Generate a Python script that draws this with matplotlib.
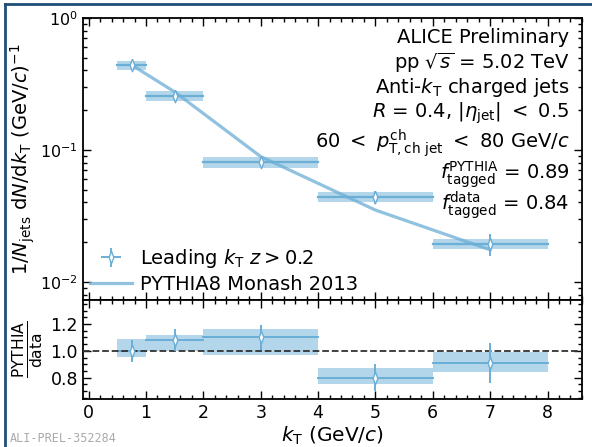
import matplotlib
matplotlib.use("Agg")
import matplotlib.pyplot as plt
from matplotlib.ticker import MultipleLocator, LogLocator, NullFormatter
from matplotlib.patches import Rectangle
from matplotlib.lines import Line2D
import numpy as np

plt.rcParams["font.family"] = "DejaVu Sans"
plt.rcParams["mathtext.fontset"] = "dejavusans"

# ── bins & values ────────────────────────────────────────────────────────────
kt_lo = [0.5, 1.0, 2.0, 4.0, 6.0]
kt_hi = [1.0, 2.0, 4.0, 6.0, 8.0]
kt_pts = [0.75, 1.5, 3.0, 5.0, 7.0]

data = [0.44, 0.257, 0.081, 0.044, 0.0194]
data_stat = [0.02, 0.012, 0.006, 0.005, 0.0037]
data_sys = [0.035, 0.021, 0.008, 0.004, 0.0018]

pythia = [0.44, 0.275, 0.089, 0.035, 0.0175]

ratio = [1.0, 1.08, 1.10, 0.80, 0.91]
ratio_stat = [0.08, 0.08, 0.09, 0.10, 0.15]
ratio_sys_lo = [0.955, 1.0, 0.97, 0.755, 0.84]
ratio_sys_hi = [1.09, 1.12, 1.165, 0.87, 0.99]

BLUE = "#6baed6"
FRAME = "#1f4e79"
# narrow open diamond
DIAMOND = [(0, 1), (0.38, 0), (0, -1), (-0.38, 0), (0, 1)]
MK = dict(fmt="none", color=BLUE, elinewidth=1.4, capsize=0)
DOT = dict(marker=DIAMOND, ms=9, mfc="white", mec=BLUE, mew=1.0, ls="none")

fig = plt.figure(figsize=(5.92, 4.47), dpi=100)
ax = fig.add_axes([0.140, 0.329, 0.843, 0.631])
axr = fig.add_axes([0.140, 0.107, 0.843, 0.222], sharex=ax)

# ── main panel ───────────────────────────────────────────────────────────────
for lo, hi, y, s in zip(kt_lo, kt_hi, data, data_sys):
    ax.add_patch(Rectangle((lo, y - s), hi - lo, 2 * s, facecolor=BLUE,
                           alpha=0.5, edgecolor="none", zorder=2))
    ax.plot([lo, hi], [y, y], color=BLUE, lw=1.6, zorder=3)
ax.errorbar(kt_pts, data, yerr=data_stat, zorder=5, **MK)
ax.plot(kt_pts, data, zorder=6, **DOT)
ax.plot(kt_pts, pythia, color=BLUE, lw=2.3, alpha=0.75, zorder=4)

ax.set_yscale("log")
ax.set_ylim(0.0073, 1.0)
ax.set_xlim(-0.1, 8.6)
ax.yaxis.set_major_locator(LogLocator(base=10, numticks=10))
ax.yaxis.set_minor_locator(LogLocator(base=10, subs=np.arange(2, 10), numticks=10))
ax.yaxis.set_minor_formatter(NullFormatter())
ax.set_ylabel(r"$1/N_{\rm jets}\ {\rm d}N/{\rm d}k_{\rm T}\ ({\rm GeV}/c)^{-1}$",
              fontsize=14, labelpad=2)
plt.setp(ax.get_xticklabels(), visible=False)

lines = [
    "ALICE Preliminary",
    r"pp $\sqrt{s}$ = 5.02 TeV",
    r"Anti-$k_{\rm T}$ charged jets",
    r"$R$ = 0.4, $|\eta_{\rm jet}|\ <\ 0.5$",
    r"60 $<\ p_{\rm T,ch\ jet}^{\rm ch}\ <$ 80 GeV/$c$",
    r"$f_{\rm tagged}^{\rm PYTHIA}$ = 0.89",
    r"$f_{\rm tagged}^{\rm data}$ = 0.84",
]
ys = [0.929, 0.84, 0.752, 0.663, 0.557, 0.443, 0.337]
for txt, y in zip(lines, ys):
    ax.text(0.975, y, txt, transform=ax.transAxes, ha="right", va="center",
            fontsize=14)

h_err = ax.errorbar([], [], xerr=[], yerr=[], **MK)
h_dot = Line2D([], [], **DOT)
h_py = Line2D([], [], color=BLUE, lw=2.3, alpha=0.75)
ax.legend([(h_err, h_dot), h_py],
          [r"Leading $k_{\rm T}$ $z > 0.2$", "PYTHIA8 Monash 2013"],
          loc="lower left", bbox_to_anchor=(-0.01, -0.02), frameon=False,
          fontsize=14, handlelength=2.2, handletextpad=0.4, borderaxespad=0.2,
          labelspacing=0.25)

# ── ratio panel ──────────────────────────────────────────────────────────────
for lo, hi, slo, shi, r in zip(kt_lo, kt_hi, ratio_sys_lo, ratio_sys_hi, ratio):
    axr.add_patch(Rectangle((lo, slo), hi - lo, shi - slo, facecolor=BLUE,
                            alpha=0.5, edgecolor="none", zorder=2))
    axr.plot([lo, hi], [r, r], color=BLUE, lw=1.4, zorder=3)
axr.errorbar(kt_pts, ratio, yerr=ratio_stat, zorder=5, **MK)
axr.plot(kt_pts, ratio, zorder=6, **DOT)
axr.axhline(1.0, color="#333333", ls="--", lw=1.3, zorder=4)
axr.set_ylim(0.64, 1.38)
axr.yaxis.set_minor_locator(MultipleLocator(0.05))
axr.set_yticks([0.8, 1.0, 1.2])
axr.set_yticklabels(["0.8", "1.0", "1.2"])
axr.xaxis.set_major_locator(MultipleLocator(1))
axr.xaxis.set_minor_locator(MultipleLocator(0.2))
axr.set_ylabel(r"$\frac{\rm PYTHIA}{\rm data}$", fontsize=16, labelpad=4)
axr.set_xlabel(r"$k_{\rm T}$ (GeV/$c$)", fontsize=14.5, labelpad=2)

for a in (ax, axr):
    a.tick_params(which="both", direction="in", top=True, right=True,
                  labelsize=12.5, width=1.0)
    a.tick_params(which="major", length=6)
    a.tick_params(which="minor", length=3)
    for sp in a.spines.values():
        sp.set_linewidth(1.3)
ax.tick_params(axis="y", labelsize=11.5)
axr.tick_params(axis="y", labelsize=12.5)

# slide frame and figure ID
fig.add_artist(Line2D([5 / 592, 1], [1 - 4 / 447, 1 - 4 / 447], color=FRAME,
                      lw=2, transform=fig.transFigure))
fig.add_artist(Line2D([5 / 592, 5 / 592], [0, 1 - 4 / 447], color=FRAME,
                      lw=2, transform=fig.transFigure))
fig.text(10 / 592, 1 - 438 / 447, "ALI-PREL-352284", fontsize=8.5,
         family="DejaVu Sans Mono", color="#aaaaaa", va="center")

fig.savefig("out.png", dpi=100)
